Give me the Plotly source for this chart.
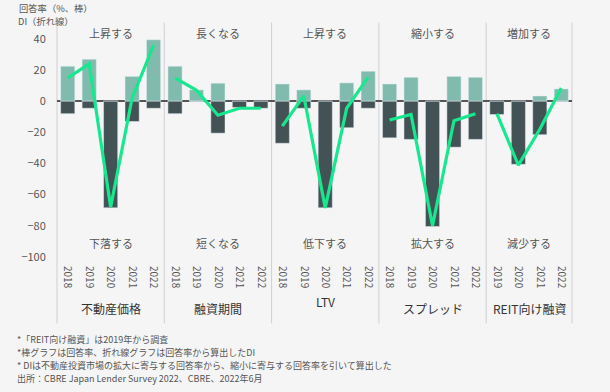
import plotly.graph_objects as go

groups = ["不動産価格", "融資期間", "LTV", "スプレッド", "REIT向け融資"]
years = [
    ["2018", "2019", "2020", "2021", "2022"],
    ["2018", "2019", "2020", "2021", "2022"],
    ["2018", "2019", "2020", "2021", "2022"],
    ["2018", "2019", "2020", "2021", "2022"],
    ["2019", "2020", "2021", "2022"],
]
up_labels = ["上昇する", "長くなる", "上昇する", "縮小する", "増加する"]
down_labels = ["下落する", "短くなる", "低下する", "拡大する", "減少する"]

pos_rate = [
    [22.5, 27, 0, 16, 39.5],
    [22.5, 7.3, 11.6, 0, 0],
    [11.1, 7.3, 0, 11.8, 19.3],
    [11.1, 15.4, 0, 16, 15.4],
    [0, 0, 3.4, 7.9],
]
neg_rate = [
    [-8, -4.5, -68.5, -13, -4.5],
    [-8, 0, -20.5, -4, -4.5],
    [-27, -4.5, -68.5, -17, -4.5],
    [-23.5, -24.5, -80.5, -29.5, -24.5],
    [-8.5, -40.5, -21.5, 0],
]
di = [
    [15, 24, -68, 2, 36],
    [15, 7, -9, -4.5, -4.5],
    [-16, 3.5, -68.5, -4.5, 15.5],
    [-12, -8.5, -80, -12.5, -8],
    [-8, -41, -18, 8.5],
]

axis_title = ["回答率（%、棒）", "DI（折れ線）"]
notes = [
    "*「REIT向け融資」は2019年から調査",
    "*棒グラフは回答率、折れ線グラフは回答率から算出したDI",
    "* DIは不動産投資市場の拡大に寄与する回答率から、縮小に寄与する回答率を引いて算出した",
    "出所：CBRE Japan Lender Survey 2022、CBRE、2022年6月",
]

C_POS = "#80BBAD"
C_NEG = "#435254"
C_LINE = "#17E88F"
BG = "#f5f5f5"
FONT = "Noto Sans CJK JP"

# flatten to a continuous category axis
xs, ticktext, pos_flat, neg_flat = [], [], [], []
line_x, line_y = [], []
bounds = []
i = 0
for g in range(len(groups)):
    start = i
    for k, yr in enumerate(years[g]):
        xs.append(i)
        ticktext.append(yr)
        pos_flat.append(pos_rate[g][k])
        neg_flat.append(neg_rate[g][k])
        line_x.append(i)
        line_y.append(di[g][k])
        i += 1
    line_x.append(None)
    line_y.append(None)
    bounds.append((start - 0.5, i - 0.5))

xmin, xmax = -0.5, i - 0.5

fig = go.Figure()
fig.add_bar(x=xs, y=pos_flat, marker_color=C_POS, width=0.66, name="pos")
fig.add_bar(x=xs, y=neg_flat, marker_color=C_NEG, width=0.66, name="neg")
fig.add_scatter(x=line_x, y=line_y, mode="lines", line=dict(color=C_LINE, width=3.2),
                connectgaps=False, name="DI")

def to_paper(v):
    return (v - xmin) / (xmax - xmin)

shapes = []
edges = sorted(set([b[0] for b in bounds] + [b[1] for b in bounds]))
for e in edges:
    shapes.append(dict(type="line", xref="paper", yref="paper",
                       x0=to_paper(e), x1=to_paper(e), y0=-0.27, y1=1.01,
                       line=dict(color="#cfcfcf", width=1), layer="below"))

ann = []
for g, (a, b) in enumerate(bounds):
    cx = to_paper((a + b) / 2)
    ann.append(dict(x=cx, y=1, xref="paper", yref="paper", text=up_labels[g],
                    showarrow=False, xanchor="center", yanchor="middle", yshift=-8,
                    font=dict(size=11, color="#555555", family=FONT)))
    ann.append(dict(x=cx, y=0, xref="paper", yref="paper", text=down_labels[g],
                    showarrow=False, xanchor="center", yanchor="middle", yshift=17,
                    font=dict(size=11, color="#555555", family=FONT)))
    ann.append(dict(x=cx, y=0, xref="paper", yref="paper", text=groups[g],
                    showarrow=False, xanchor="center", yanchor="middle",
                    yshift=-41 if groups[g] == "LTV" else -48,
                    font=dict(size=12, color="#333333", family=FONT)))

for n, t in enumerate(axis_title):
    ann.append(dict(x=0, y=1, xref="paper", yref="paper", text=t,
                    showarrow=False, xanchor="left", yanchor="middle",
                    xshift=-40 if n == 0 else -41, yshift=17.5 - 13.6 * n,
                    font=dict(size=9.3, color="#555555", family=FONT)))
for n, t in enumerate(notes):
    ann.append(dict(x=0, y=0, xref="paper", yref="paper", text=t,
                    showarrow=False, xanchor="left", yanchor="middle",
                    xshift=-42, yshift=-79 - 13.1 * n,
                    font=dict(size=9, color="#555555", family=FONT)))

fig.update_layout(
    width=610, height=392,
    margin=dict(l=57, r=38, t=25, b=132),
    paper_bgcolor=BG, plot_bgcolor=BG,
    barmode="overlay", showlegend=False,
    shapes=shapes, annotations=ann,
    font=dict(family=FONT, color="#555555", size=11),
    xaxis=dict(range=[xmin, xmax], tickmode="array", tickvals=xs, ticktext=ticktext,
               tickangle=90, showgrid=False, zeroline=False, showline=False,
               ticks="outside", ticklen=3, tickcolor=BG,
               tickfont=dict(size=10, color="#555555")),
    yaxis=dict(range=[-102, 49], tickvals=[40, 20, 0, -20, -40, -60, -80, -100],
               showgrid=False, zeroline=True, zerolinecolor="#555555", zerolinewidth=1.5,
               showline=False, ticks="outside", ticklen=8, tickcolor=BG,
               tickfont=dict(size=11, color="#555555")),
)

fig.write_html("out.html", config={"displayModeBar": False},
               post_script="document.body.style.margin='0';")
